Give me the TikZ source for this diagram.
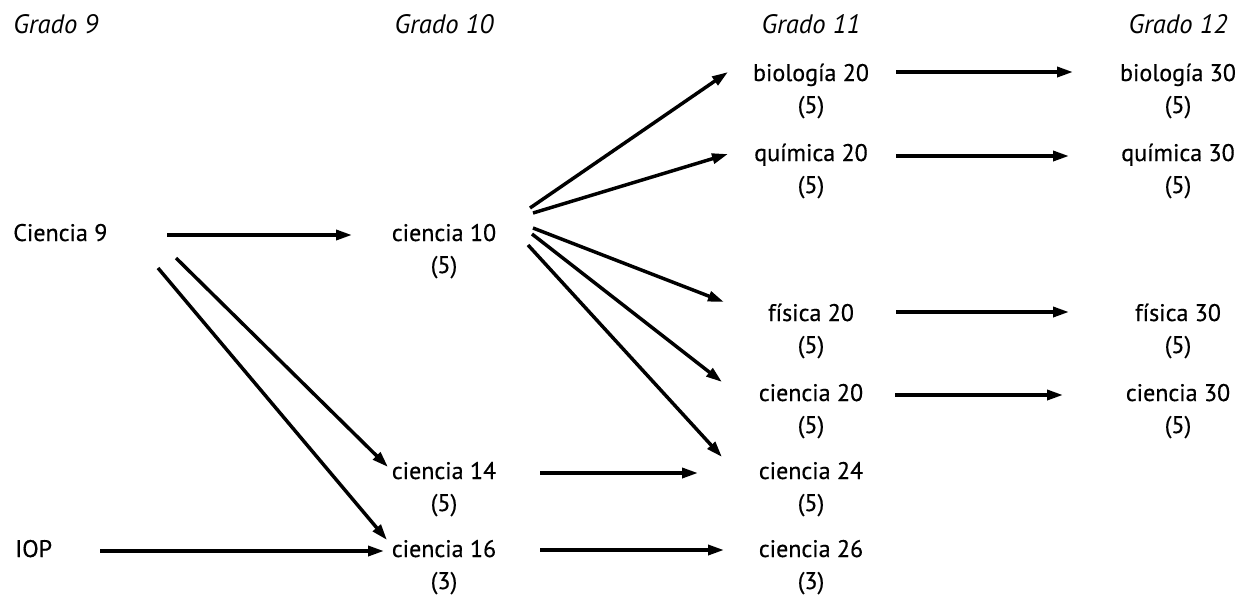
\documentclass[tikz,border=0pt]{standalone}
\usepackage{fontspec}
\setmainfont{PT Sans}
\newfontfamily\lblfont{PT Sans}[FakeBold=0.5]
\usetikzlibrary{arrows.meta}
\begin{document}
\begin{tikzpicture}[x=0.75pt,y=-0.75pt,
  lbl/.style={inner sep=0pt,anchor=base,font=\lblfont\fontsize{18}{21}\selectfont},
  hdr/.style={inner sep=0pt,anchor=base,font=\fontsize{20}{23}\selectfont\itshape},
  arr/.style={line width=2.6pt,-{Triangle[length=12pt,width=7.5pt]}}]
\useasboundingbox (0,0) rectangle (1242,597);
% headers
\node[hdr,anchor=base west] (g9) at (13,33) {Grado 9};
\node[hdr] (g10) at (444,33) {Grado 10};
\node[hdr] (g11) at (811,33) {Grado 11};
\node[hdr] (g12) at (1178,33) {Grado 12};
% grade 9
\node[lbl,anchor=base west] (c9) at (13,241) {Ciencia 9};
\node[lbl,anchor=base west] (iop) at (15,557) {IOP};
% grade 10
\node[lbl] (c10) at (444,241) {ciencia 10};
\node[lbl] (c10n) at (444,273) {(5)};
\node[lbl] (c14) at (444,479) {ciencia 14};
\node[lbl] (c14n) at (444,511) {(5)};
\node[lbl] (c16) at (444,557) {ciencia 16};
\node[lbl] (c16n) at (444,589) {(3)};
% grade 11
\node[lbl] (bio20) at (811,81) {biología 20};
\node[lbl] (bio20n) at (811,113) {(5)};
\node[lbl] (qui20) at (811,161) {química 20};
\node[lbl] (qui20n) at (811,193) {(5)};
\node[lbl] (fis20) at (811,321) {física 20};
\node[lbl] (fis20n) at (811,353) {(5)};
\node[lbl] (c20) at (811,401) {ciencia 20};
\node[lbl] (c20n) at (811,433) {(5)};
\node[lbl] (c24) at (811,479) {ciencia 24};
\node[lbl] (c24n) at (811,511) {(5)};
\node[lbl] (c26) at (811,557) {ciencia 26};
\node[lbl] (c26n) at (811,589) {(3)};
% grade 12
\node[lbl] (bio30) at (1178,81) {biología 30};
\node[lbl] (bio30n) at (1178,113) {(5)};
\node[lbl] (qui30) at (1178,161) {química 30};
\node[lbl] (qui30n) at (1178,193) {(5)};
\node[lbl] (fis30) at (1178,321) {física 30};
\node[lbl] (fis30n) at (1178,353) {(5)};
\node[lbl] (c30) at (1178,401) {ciencia 30};
\node[lbl] (c30n) at (1178,433) {(5)};
% arrows
\draw[arr] ([shift={(154,-6)}]c9.base west) -- ([shift={(-92,-6)}]c10.base);
\draw[arr] ([shift={(163,17)}]c9.base west) -- ([shift={(-56,-12)}]c14.base);
\draw[arr] ([shift={(145,27)}]c9.base west) -- ([shift={(-57,-17)}]c16.base);
\draw[arr] ([shift={(85,-6)}]iop.base west) -- ([shift={(-60,-6)}]c16.base);
\draw[arr] ([shift={(86,-33)}]c10.base) -- ([shift={(-83,-9)}]bio20.base);
\draw[arr] ([shift={(89,-28)}]c10.base) -- ([shift={(-83,-7)}]qui20.base);
\draw[arr] ([shift={(89,-13)}]c10.base) -- ([shift={(-87,-19)}]fis20.base);
\draw[arr] ([shift={(88,-7)}]c10.base) -- ([shift={(-89,-19)}]c20.base);
\draw[arr] ([shift={(84,4)}]c10.base) -- ([shift={(-89,-22)}]c24.base);
\draw[arr] ([shift={(96,-6)}]c14.base) -- ([shift={(-113,-6)}]c24.base);
\draw[arr] ([shift={(96,-7)}]c16.base) -- ([shift={(-87,-7)}]c26.base);
\draw[arr] ([shift={(85,-9)}]bio20.base) -- ([shift={(-105,-9)}]bio30.base);
\draw[arr] ([shift={(85,-5)}]qui20.base) -- ([shift={(-109,-5)}]qui30.base);
\draw[arr] ([shift={(85,-9)}]fis20.base) -- ([shift={(-109,-9)}]fis30.base);
\draw[arr] ([shift={(84,-6)}]c20.base) -- ([shift={(-115,-6)}]c30.base);
\end{tikzpicture}
\end{document}
